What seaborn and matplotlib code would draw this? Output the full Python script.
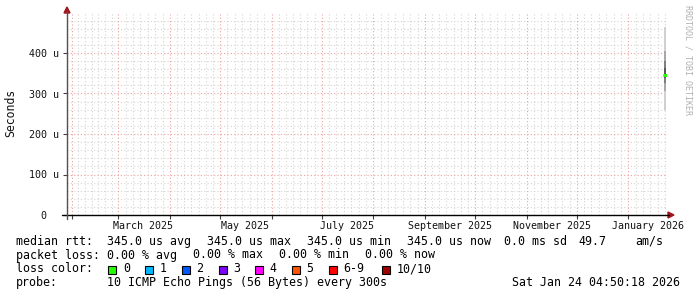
import numpy as np
import pandas as pd
import matplotlib
matplotlib.use("Agg")
import matplotlib.pyplot as plt
import matplotlib.dates as mdates
from matplotlib.lines import Line2D
from matplotlib.patches import Polygon, Rectangle
import seaborn as sns

# ---------------- data ----------------
range_start = "2025-01-29 04:50:18"
range_end = "2026-01-24 04:50:18"
bin_start = "2026-01-22 12:00"
bin_end = "2026-01-23 12:00"
pings_us = [260, 305, 327, 338, 343, 347, 362, 380, 404, 464]
median_us = 345.0
y_ticks = [0, 100, 200, 300, 400]
y_tick_labels = ["0  ", "100 u", "200 u", "300 u", "400 u"]
x_label_dates = ["2025-03-16", "2025-05-16", "2025-07-16", "2025-09-16", "2025-11-16", "2026-01-13"]
x_labels = ["March 2025", "May 2025", "July 2025", "September 2025", "November 2025", "January 2026"]
loss_labels = ["0", "1", "2", "3", "4", "5", "6-9", "10/10"]
loss_colors = ["#26ff00", "#00b8ff", "#0059ff", "#7e00ff", "#ff00ff", "#ff5500", "#ff0000", "#a10000"]
rtt_items = ["median rtt:", "345.0 us avg", "345.0 us max", "345.0 us min", "345.0 us now",
             "0.0 ms sd", "49.7", "am/s"]
loss_items = ["packet loss:", "0.00 % avg", "0.00 % max", "0.00 % min", "0.00 % now"]
probe_items = ["probe:", "10 ICMP Echo Pings (56 Bytes) every 300s"]
legend_date = "Sat Jan 24 04:50:18 2026"
watermark = "RRDTOOL / TOBI OETIKER"
smoke_colors = ["#d0d0d0", "#a8a8a8", "#808080", "#585858", "#404040"]

# ---------------- style ----------------
sns.set_theme(style="white")
plt.rcParams["font.family"] = ["DejaVu Sans Mono"]
W, H = 697, 297
fig = plt.figure(figsize=(W / 100, H / 100), dpi=100, facecolor="white")


def fx(x):
    return x / W


def fy(y):
    return 1 - y / H


ax = fig.add_axes([fx(67), fy(215), 600 / W, 202.5 / H])
ax.set_facecolor("white")
for s in ax.spines.values():
    s.set_visible(False)

t0 = mdates.date2num(pd.Timestamp(range_start))
t1 = mdates.date2num(pd.Timestamp(range_end))

# grid: months (major red) each split into 7 (minor gray)
months = pd.date_range("2025-01-01", "2026-02-01", freq="MS")
minor_x = []
for a, b in zip(months[:-1], months[1:]):
    na, nb = mdates.date2num(a), mdates.date2num(b)
    for k in range(1, 7):
        minor_x.append(na + (nb - na) * k / 7)
dot = (0, (1, 2))
for x in minor_x:
    if t0 < x < t1:
        ax.axvline(x, color="#d4d4d4", lw=0.8, ls=dot, zorder=0)
for y in range(20, 500, 20):
    if y % 100:
        ax.axhline(y, color="#d4d4d4", lw=0.8, ls=dot, zorder=0)
month_nums = [mdates.date2num(m) for m in months if t0 < mdates.date2num(m) < t1]
for x in month_nums:
    ax.axvline(x, color="#eda0a0", lw=0.8, ls=dot, zorder=0.5)
for y in y_ticks[1:]:
    ax.axhline(y, color="#eda0a0", lw=0.8, ls=dot, zorder=0.5)

# smoke
b0 = mdates.date2num(pd.Timestamp(bin_start))
b1 = mdates.date2num(pd.Timestamp(bin_end))
n = len(pings_us)
for i in range(n // 2):
    ax.fill_between([b0, b1], [pings_us[i]] * 2, [pings_us[n - 1 - i]] * 2,
                    color=smoke_colors[i], lw=0, zorder=2)
med = pd.DataFrame({"t": [b0, b1 + 0.3], "rtt": [median_us, median_us]})
sns.lineplot(data=med, x="t", y="rtt", color=loss_colors[0], lw=2.2, ax=ax, zorder=3)
ax.set_xlim(t0, t1)
ax.set_ylim(0, 500)
ax.set_xlabel("")
ax.set_ylabel("")

# ticks
ax.set_yticks(y_ticks, y_tick_labels)
ax.tick_params(axis="y", left=True, length=3, width=0.8, color="#404040", pad=2.6,
               labelsize=7.2, labelcolor="#111111")
lab_nums = [mdates.date2num(pd.Timestamp(d)) for d in x_label_dates]
ax.set_xticks(lab_nums, x_labels)
ax.set_xticks(month_nums, minor=True)
ax.tick_params(axis="x", which="major", bottom=True, length=0, pad=4.0,
               labelsize=7.2, labelcolor="#111111")
ax.tick_params(axis="x", which="minor", bottom=True, length=3, width=0.8, color="#404040")
ax.grid(False)

# axis lines + arrows (figure coords)
fig.add_artist(Line2D([fx(62), fx(669)], [fy(215), fy(215)], color="black", lw=1.0,
                      transform=fig.transFigure))
fig.add_artist(Line2D([fx(67), fx(67)], [fy(219), fy(11)], color="#505050", lw=1.0,
                      transform=fig.transFigure))
arrow_c = "#a3151b"
fig.add_artist(Polygon([[fx(668), fy(212)], [fx(674), fy(215)], [fx(668), fy(218)]],
                       closed=True, color=arrow_c, transform=fig.transFigure))
fig.add_artist(Polygon([[fx(64), fy(13)], [fx(67), fy(7)], [fx(70), fy(13)]],
                       closed=True, color=arrow_c, transform=fig.transFigure))

# y label and watermark
fig.text(fx(11), fy(113), "Seconds", rotation=90, ha="center", va="center",
         fontsize=8.3, color="#111111")
fig.text(fx(688), fy(5), watermark, rotation=270, ha="center", va="top",
         fontsize=6.0, color="#b0b0b0")

# legend
fs = 8.35


def put(x, y, s, ha="left"):
    fig.text(fx(x), fy(y), s, ha=ha, va="center", fontsize=fs, color="black")


rtt_x = [16, 107.3, 207.3, 306.7, 406.7, 504, 578, 635]
for x, s in zip(rtt_x, rtt_items):
    put(x, 241.5, s)
loss_x = [16, 107.3, 193.3, 279.3, 365]
for x, s in zip(loss_x, loss_items):
    put(x, 255, s)
put(16, 269, "loss color:")
box_x = [108.3, 145, 181.7, 218.5, 255.3, 292.2, 329, 381.7]
for bx, lab, col in zip(box_x, loss_labels, loss_colors):
    fig.add_artist(Rectangle((fx(bx), fy(273.5)), 8 / W, 8 / H, facecolor=col,
                             edgecolor="black", lw=0.8, transform=fig.transFigure))
    put(bx + 14.5, 269, lab)
put(16, 282.7, probe_items[0])
put(107.3, 282.7, probe_items[1])
put(680.5, 282.7, legend_date, ha="right")

fig.savefig("out.png", dpi=100, facecolor="white")
